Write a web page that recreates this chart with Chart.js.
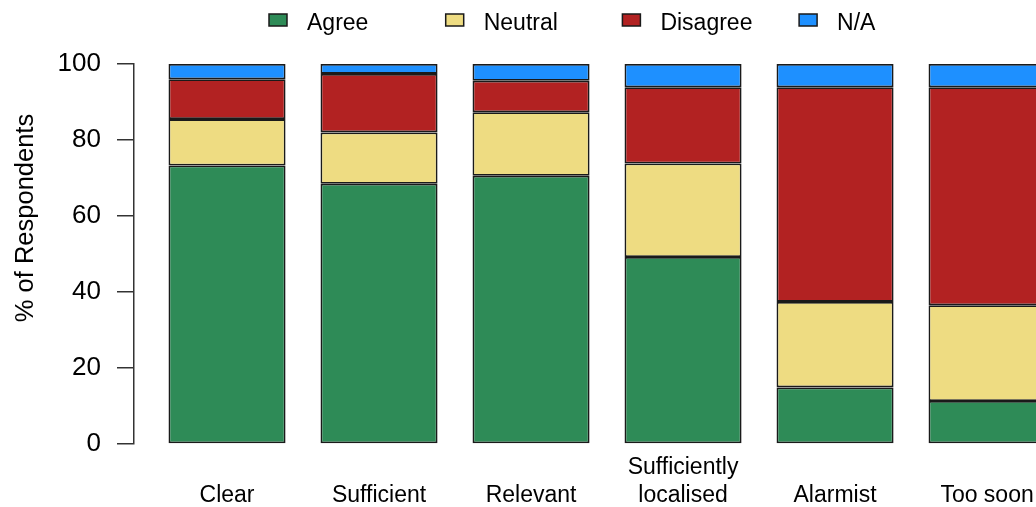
<!DOCTYPE html>
<html>
<head>
<meta charset="utf-8">
<script src="https://cdn.jsdelivr.net/npm/chart.js@4/dist/chart.umd.min.js"></script>
<style>
  html, body { margin: 0; padding: 0; background: #fff; overflow: hidden; }
  /* plot is wider than the window on purpose: the last bar is cut off like in the source */
  #wrap { width: 1100px; height: 507px; position: relative; }
</style>
</head>
<body>
<div id="wrap"><canvas id="chart"></canvas></div>
<script>
// Survey answers, % of respondents
const categories = ["Clear", "Sufficient", "Relevant", "Sufficiently\nlocalised", "Alarmist", "Too soon"];
const agree    = [73.3, 68.5, 70.6, 49.2, 14.9, 11.3];
const neutral  = [12.2, 13.5, 16.7, 24.6, 22.5, 25.2];
const disagree = [10.5, 15.4,  8.3, 20.1, 56.5, 57.4];
const na       = [ 4.0,  2.6,  4.4,  6.1,  6.1,  6.1];
const seriesNames = ["Agree", "Neutral", "Disagree", "N/A"];
const seriesColors = ["#2E8B57", "#EEDC82", "#B22222", "#1E90FF"];
const yTicks = [0, 20, 40, 60, 80, 100];
const yTitle = "% of Respondents";

const FONT = '"Liberation Sans", Arial, sans-serif';

const toPoints = vals => vals.map((v, i) => ({ x: i, y: v }));

const datasets = [agree, neutral, disagree, na].map((vals, k) => ({
  label: seriesNames[k],
  data: toPoints(vals),
  backgroundColor: seriesColors[k],
  borderColor: "#1a1a1a",
  borderWidth: 1.8,
  borderSkipped: false,
  barPercentage: 1,
  categoryPercentage: 0.77
}));

// R-style horizontal legend on top + rotated y title
const rDecor = {
  id: "rDecor",
  afterDraw(chart) {
    const ctx = chart.ctx;
    ctx.save();
    ctx.font = "23px " + FONT;
    ctx.textBaseline = "alphabetic";
    ctx.textAlign = "left";
    chart.data.datasets.forEach((ds, i) => {
      const x = 269 + i * 176.7;
      ctx.fillStyle = ds.backgroundColor;
      ctx.fillRect(x, 14, 18, 12);
      ctx.strokeStyle = "#1a1a1a";
      ctx.lineWidth = 1.5;
      ctx.strokeRect(x, 14, 18, 12);
      ctx.fillStyle = "#000";
      ctx.fillText(ds.label, x + 38, 30);
    });
    ctx.translate(33, 218);
    ctx.rotate(-Math.PI / 2);
    ctx.textAlign = "center";
    ctx.font = "25.5px " + FONT;
    ctx.fillText(yTitle, 0, 0);
    ctx.restore();
  }
};

new Chart(document.getElementById("chart"), {
  type: "bar",
  data: { datasets },
  plugins: [rDecor],
  options: {
    responsive: true,
    maintainAspectRatio: false,
    animation: false,
    events: [],
    layout: { padding: { top: 64, left: 0, right: 0, bottom: 0 } },
    plugins: { legend: { display: false }, tooltip: { enabled: false } },
    scales: {
      x: {
        type: "linear",
        stacked: true,
        offset: false,
        min: -0.612,
        max: 5.743,
        grid: { display: false, drawTicks: false, offset: false },
        border: { display: false },
        afterBuildTicks: s => { s.ticks = categories.map((_, i) => ({ value: i })); },
        afterFit: s => { s.height = 63; },
        ticks: {
          autoSkip: false,
          maxRotation: 0,
          padding: 10,
          color: "#000",
          font: { family: FONT, size: 23 },
          callback: (v, i) => {
            const lines = categories[i].split("\n");
            return lines.length === 1 ? ["", lines[0]] : lines;
          }
        }
      },
      y: {
        stacked: true,
        min: 0,
        max: 100,
        afterBuildTicks: s => { s.ticks = yTicks.map(v => ({ value: v })); },
        afterFit: s => { s.width = 134; },
        grid: { drawOnChartArea: false, drawTicks: true, tickLength: 17, color: "#333", lineWidth: 1.5 },
        border: { display: true, color: "#333", width: 1.5 },
        ticks: { padding: 16, color: "#000", font: { family: FONT, size: 26 } }
      }
    }
  }
});
</script>
</body>
</html>
